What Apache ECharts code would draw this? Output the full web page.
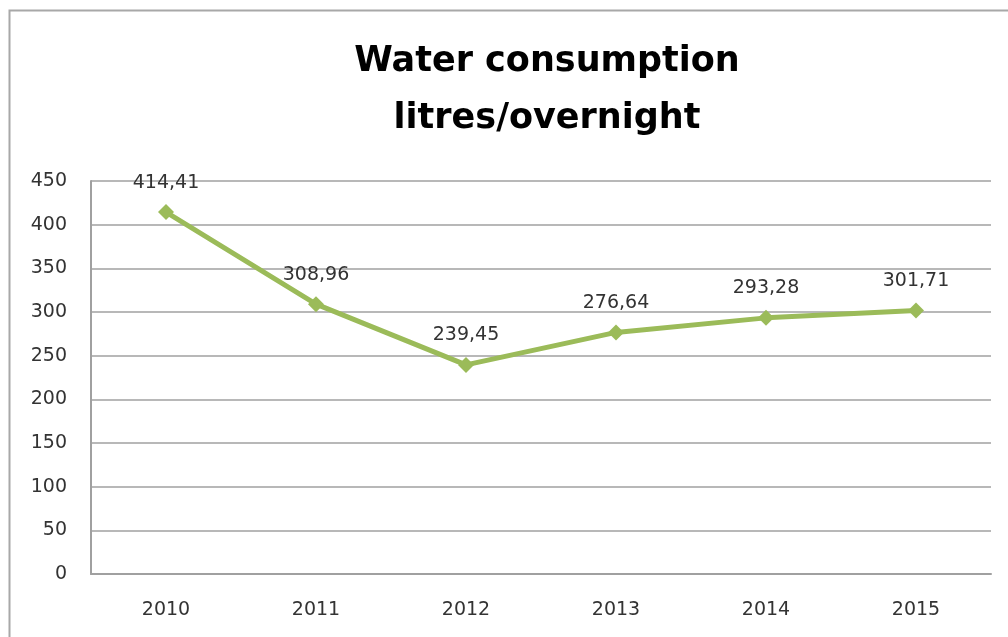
<!DOCTYPE html>
<html>
<head>
<meta charset="utf-8">
<script src="https://cdn.jsdelivr.net/npm/echarts@6/dist/echarts.min.js"></script>
<style>
html,body{margin:0;padding:0;background:#fff;}
#chart{width:1008px;height:637px;}
</style>
</head>
<body>
<div id="chart"></div>
<script>
const titleLines = ['Water consumption', 'litres/overnight'];
const years = ['2010', '2011', '2012', '2013', '2014', '2015'];
const consumption = [414.41, 308.96, 239.45, 276.64, 293.28, 301.71];
const yMin = 0, yMax = 450, yStep = 50;

const chart = echarts.init(document.getElementById('chart'));
const font = '"DejaVu Sans", "Open Sans", sans-serif';
chart.setOption({
  animation: false,
  backgroundColor: '#fff',
  graphic: [{
    type: 'rect',
    shape: { x: 9.5, y: 10.5, width: 1100, height: 700 },
    style: { fill: 'none', stroke: '#a8a8a8', lineWidth: 2 },
    silent: true, z: -1
  }],
  title: {
    text: titleLines.join('\n'),
    left: 542,
    textAlign: 'center',
    top: 28,
    textStyle: { fontFamily: font, fontWeight: 'bold', fontSize: 35, lineHeight: 57, color: '#000' }
  },
  grid: { left: 91, right: 17, top: 181, bottom: 63 },
  xAxis: {
    type: 'category',
    data: years,
    boundaryGap: true,
    axisLine: { lineStyle: { color: '#a0a0a0', width: 2 } },
    axisTick: { show: false },
    axisLabel: { fontFamily: font, fontSize: 19, color: '#333', margin: 27 }
  },
  yAxis: {
    type: 'value',
    min: yMin, max: yMax, interval: yStep,
    axisLine: { show: true, lineStyle: { color: '#a0a0a0', width: 2 } },
    axisTick: { show: false },
    splitLine: { lineStyle: { color: '#a0a0a0', width: 1.5 } },
    axisLabel: { fontFamily: font, fontSize: 19, color: '#333', margin: 24 }
  },
  series: [{
    type: 'line',
    data: consumption,
    symbol: 'diamond',
    symbolSize: 16,
    lineStyle: { color: '#9bbb59', width: 5 },
    itemStyle: { color: '#9bbb59' },
    label: {
      show: true,
      position: 'top',
      distance: 12,
      fontFamily: font,
      fontSize: 19,
      color: '#333',
      formatter: p => p.value.toFixed(2).replace('.', ',')
    }
  }]
});
</script>
</body>
</html>
